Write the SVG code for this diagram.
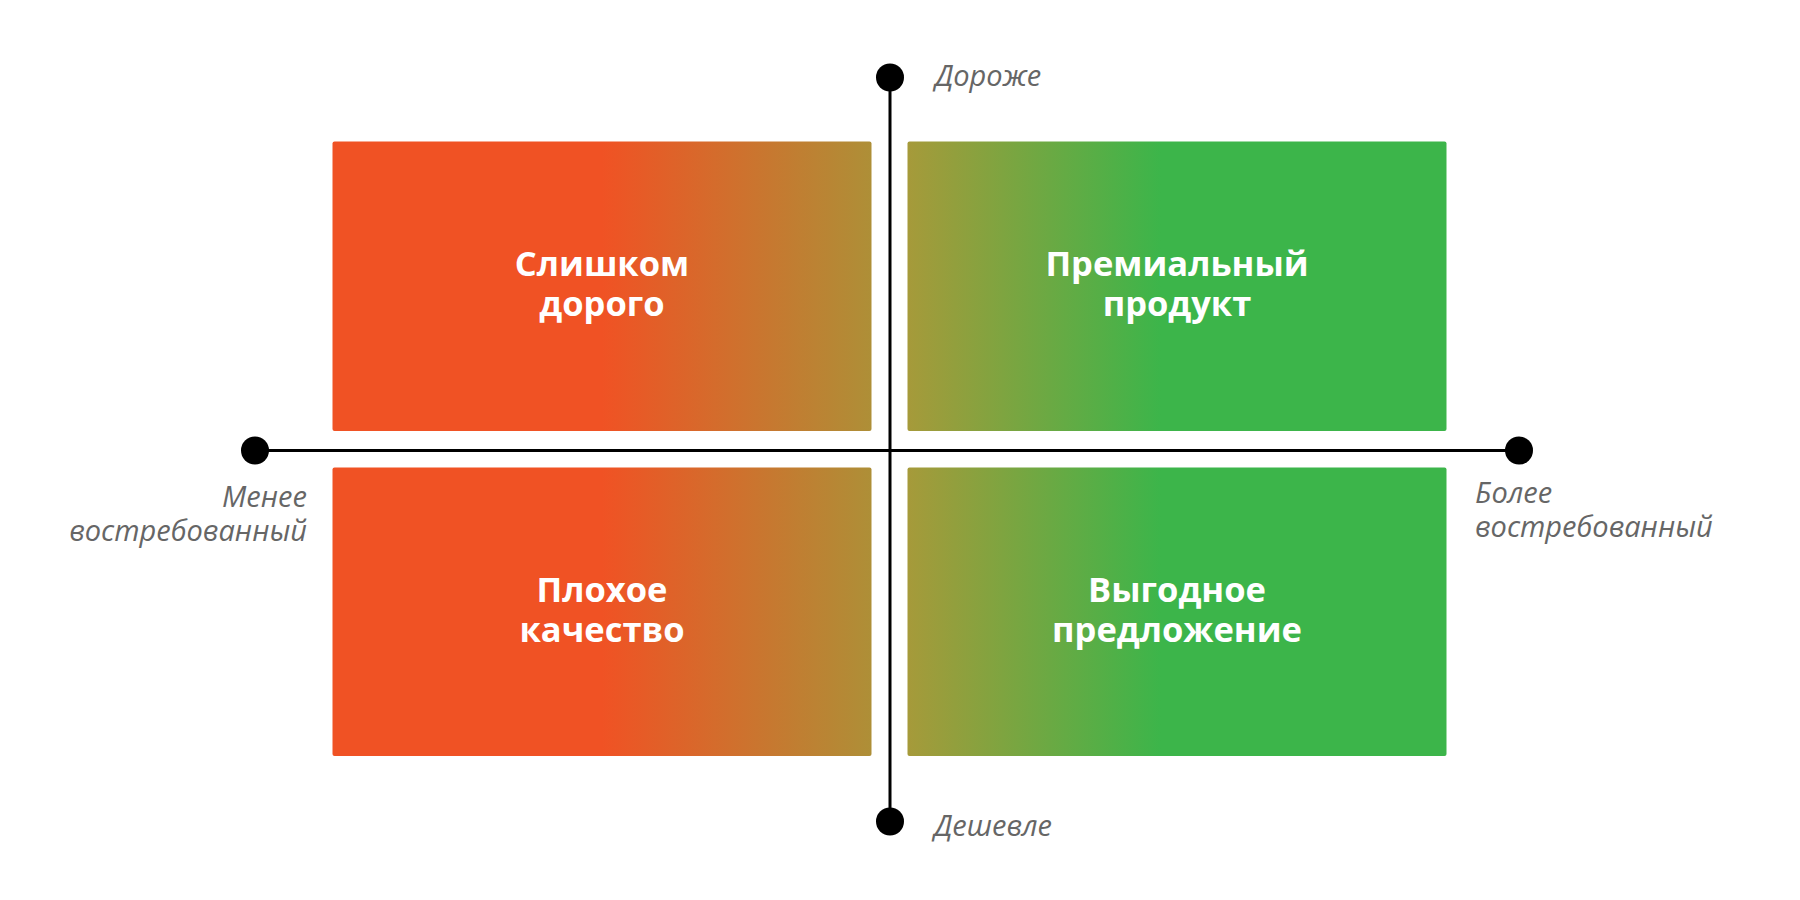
<svg xmlns="http://www.w3.org/2000/svg" width="1800" height="900" viewBox="0 0 1800 900">
  <defs>
    <linearGradient id="gLeft" x1="0" y1="0" x2="1" y2="0">
      <stop offset="0" stop-color="#F05224"/>
      <stop offset="0.5" stop-color="#F05224"/>
      <stop offset="1" stop-color="#AE8F37"/>
    </linearGradient>
    <linearGradient id="gRight" x1="0" y1="0" x2="1" y2="0">
      <stop offset="0" stop-color="#A69A3A"/>
      <stop offset="0.47" stop-color="#3CB54A"/>
      <stop offset="1" stop-color="#3CB54A"/>
    </linearGradient>
    <style>
      .qtext { font-family: "Open Sans", "Liberation Sans", sans-serif; font-weight: 700; font-size: 34.5px; fill: #ffffff; text-anchor: middle; }
      .axtext { font-family: "Open Sans", "Liberation Sans", sans-serif; font-style: italic; font-size: 29px; fill: #666666; }
      .axis { stroke: #000000; stroke-width: 3; fill: none; }
      .dot { fill: #000000; }
    </style>
  </defs>
  <rect width="1800" height="900" fill="#ffffff"/>

  <g id="q-too-expensive">
    <rect x="332.5" y="141.5" width="539" height="289.5" rx="2" fill="url(#gLeft)"/>
    <text class="qtext" x="602" y="276">Слишком</text>
    <text class="qtext" x="602" y="315.5">дорого</text>
  </g>
  <g id="q-premium">
    <rect x="907.5" y="141.5" width="539" height="289.5" rx="2" fill="url(#gRight)"/>
    <text class="qtext" x="1177" y="276">Премиальный</text>
    <text class="qtext" x="1177" y="315.5">продукт</text>
  </g>
  <g id="q-bad-quality">
    <rect x="332.5" y="467.5" width="539" height="288.5" rx="2" fill="url(#gLeft)"/>
    <text class="qtext" x="602" y="602">Плохое</text>
    <text class="qtext" x="602" y="641.5">качество</text>
  </g>
  <g id="q-good-deal">
    <rect x="907.5" y="467.5" width="539" height="288.5" rx="2" fill="url(#gRight)"/>
    <text class="qtext" x="1177" y="602">Выгодное</text>
    <text class="qtext" x="1177" y="641.5">предложение</text>
  </g>

  <g id="connectors">
    <line class="axis" x1="890" y1="77" x2="890" y2="822"/>
    <line class="axis" x1="255" y1="450.5" x2="1519" y2="450.5"/>
  </g>

  <g id="axis-top">
    <circle class="dot" cx="890" cy="77.5" r="14"/>
    <text class="axtext" x="935" y="86">Дороже</text>
  </g>
  <g id="axis-bottom">
    <circle class="dot" cx="890" cy="821.5" r="14"/>
    <text class="axtext" x="934" y="836">Дешевле</text>
  </g>
  <g id="axis-left">
    <circle class="dot" cx="255" cy="450.5" r="14"/>
    <text class="axtext" x="307" y="507" text-anchor="end">Менее</text>
    <text class="axtext" x="307" y="541" text-anchor="end">востребованный</text>
  </g>
  <g id="axis-right">
    <circle class="dot" cx="1519" cy="450.5" r="14"/>
    <text class="axtext" x="1475" y="503">Более</text>
    <text class="axtext" x="1475" y="537">востребованный</text>
  </g>
</svg>
